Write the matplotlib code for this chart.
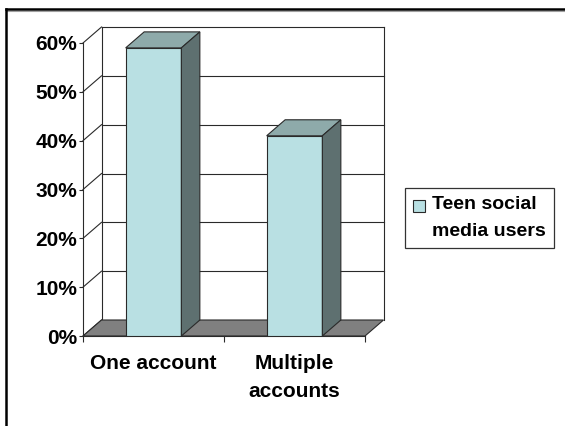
import matplotlib
matplotlib.use('Agg')
from matplotlib import pyplot as plt
from matplotlib.patches import Polygon, Patch, Rectangle
from matplotlib.legend_handler import HandlerPatch
from matplotlib.lines import Line2D
import numpy as np

categories = ['One account', 'Multiple\naccounts']
values = [59, 41]
y_ticks = [0, 10, 20, 30, 40, 50, 60]
y_tick_labels = ['0%', '10%', '20%', '30%', '40%', '50%', '60%']
series_name = 'Teen social\nmedia users'

front_color = '#B9E0E3'
top_color = '#8EAAAA'
side_color = '#5E7070'
floor_color = '#808080'
edge_color = '#2A2A2A'

plt.rcParams['font.family'] = ['Liberation Sans', 'DejaVu Sans']
plt.rcParams['font.weight'] = 'bold'
font_size = 15

W, H = 565, 426
fig = plt.figure(figsize=(W / 100, H / 100), dpi=100)

# front plane of the plot area in pixels
px_left, px_right, px_bottom, px_top = 83, 365, 336, 43
ax = fig.add_axes([px_left / W, 1 - px_bottom / H,
                   (px_right - px_left) / W, (px_bottom - px_top) / H])
x = np.arange(len(categories))
x_min, x_max = -0.5, len(categories) - 0.5
y_max = y_ticks[-1]
ax.set_xlim(x_min, x_max)
ax.set_ylim(0, y_max)

# depth offset of the 3d look, converted from pixels to data units
depth_px_x, depth_px_y = 18.5, 16
dx = depth_px_x * (x_max - x_min) / (px_right - px_left)
dy = depth_px_y * y_max / (px_bottom - px_top)

# floor
floor = Polygon([(x_min, 0), (x_max, 0), (x_max + dx, dy), (x_min + dx, dy)],
                closed=True, facecolor=floor_color, edgecolor=edge_color,
                lw=0.8, clip_on=False, zorder=1)
ax.add_patch(floor)

# back wall gridlines and edges, left side wall diagonals
for v in y_ticks[1:]:
    ax.plot([x_min + dx, x_max + dx], [v + dy, v + dy], color=edge_color,
            lw=0.8, clip_on=False, zorder=0.5)
for v in y_ticks:
    ax.plot([x_min, x_min + dx], [v, v + dy], color=edge_color,
            lw=0.8, clip_on=False, zorder=0.5)
ax.plot([x_min + dx, x_min + dx], [dy, y_max + dy], color=edge_color,
        lw=0.8, clip_on=False, zorder=0.5)
ax.plot([x_max + dx, x_max + dx], [dy, y_max + dy], color=edge_color,
        lw=0.8, clip_on=False, zorder=0.5)

# bars with top and side faces
bar_w = 0.395
ax.bar(x, values, width=bar_w, color=front_color, edgecolor=edge_color,
       lw=0.8, zorder=3, label=series_name)
for xi, v in zip(x, values):
    l, r = xi - bar_w / 2, xi + bar_w / 2
    top = Polygon([(l, v), (r, v), (r + dx, v + dy), (l + dx, v + dy)],
                  closed=True, facecolor=top_color, edgecolor=edge_color,
                  lw=0.8, clip_on=False, zorder=3)
    side = Polygon([(r, 0), (r + dx, dy), (r + dx, v + dy), (r, v)],
                   closed=True, facecolor=side_color, edgecolor=edge_color,
                   lw=0.8, clip_on=False, zorder=3)
    ax.add_patch(top)
    ax.add_patch(side)

# axes and ticks
for s in ['top', 'right']:
    ax.spines[s].set_visible(False)
ax.spines['left'].set_color(edge_color)
ax.spines['left'].set_linewidth(0.8)
ax.spines['bottom'].set_color(edge_color)
ax.spines['bottom'].set_linewidth(0.8)
ax.patch.set_alpha(0)

ax.set_yticks(y_ticks)
ax.set_yticklabels(y_tick_labels, fontsize=font_size, fontweight='bold')
ax.tick_params(axis='y', direction='out', length=3, width=0.8,
               color=edge_color, pad=1)

ax.set_xticks(x)
ax.set_xticklabels(categories, fontsize=font_size, fontweight='bold',
                   linespacing=1.6)
ax.tick_params(axis='x', which='major', length=0, pad=13)
ax.set_xticks(np.arange(x_min, x_max + 0.1, 1.0), minor=True)
ax.tick_params(axis='x', which='minor', direction='out', length=4,
               width=0.8, color=edge_color)


# legend, the swatch sits next to the first text line
def first_line_patch(legend, orig_handle, xdescent, ydescent, width, height,
                     fontsize):
    return Rectangle((-xdescent, -ydescent + 0.6 * fontsize), width, height)


leg_size = 14
leg = ax.legend(handles=[Patch(facecolor=front_color, edgecolor=edge_color,
                               lw=0.8, label=series_name)],
                handler_map={Patch: HandlerPatch(patch_func=first_line_patch)},
                loc='upper left', bbox_to_anchor=(405 / W, 1 - 188 / H),
                bbox_transform=fig.transFigure, borderaxespad=0,
                fancybox=False, frameon=True, handlelength=0.6,
                handleheight=0.6, handletextpad=0.35, borderpad=0.42,
                prop={'size': leg_size, 'weight': 'bold'})
leg.get_texts()[0].set_linespacing(1.75)
leg.get_frame().set_edgecolor('black')
leg.get_frame().set_linewidth(0.9)

# outer frame, only top and left are visible
fig.add_artist(Line2D([5.7 / W, 1], [1 - 11 / H, 1 - 11 / H],
                      transform=fig.transFigure, color='#A0A0A0', lw=0.8))
fig.add_artist(Line2D([5.7 / W, 1], [1 - 9.3 / H, 1 - 9.3 / H],
                      transform=fig.transFigure, color='black', lw=1.8))
fig.add_artist(Line2D([5.7 / W, 5.7 / W], [0, 1 - 9.3 / H],
                      transform=fig.transFigure, color='black', lw=1.8))

fig.savefig('out.png', dpi=100)
